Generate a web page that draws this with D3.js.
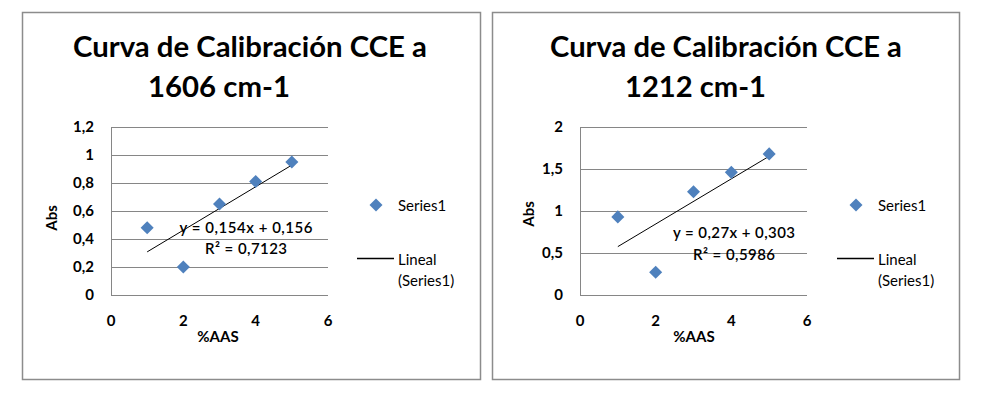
<!DOCTYPE html>
<html>
<head>
<meta charset="utf-8">
<script src="https://cdn.jsdelivr.net/npm/d3@7"></script>
<style>
  html, body { margin: 0; padding: 0; background: #fff; }
  svg { display: block; }
  text { font-family: Lato, "Open Sans", sans-serif; fill: #000; }
</style>
</head>
<body>
<svg id="chart" width="990" height="399"></svg>
<script>
// ---------- data ----------
const xValues = [1, 2, 3, 4, 5];
const absorbance1606 = [0.48, 0.20, 0.65, 0.81, 0.95];
const absorbance1212 = [0.93, 0.27, 1.23, 1.46, 1.68];

const titles1606 = ["Curva de Calibración CCE a", "1606 cm-1"];
const titles1212 = ["Curva de Calibración CCE a", "1212 cm-1"];

const xTicks = [0, 2, 4, 6];
const yTicks1606 = [0, 0.2, 0.4, 0.6, 0.8, 1, 1.2];
const yTicks1212 = [0, 0.5, 1, 1.5, 2];

const equation1606 = ["y = 0,154x + 0,156", "R² = 0,7123"];
const equation1212 = ["y = 0,27x + 0,303", "R² = 0,5986"];

const xAxisTitle = "%AAS";
const yAxisTitle = "Abs";
const legendLabels = ["Series1", "Lineal", "(Series1)"];

// ---------- helpers ----------
const fmt = v => String(v).replace(".", ",");
function linreg(xs, ys) {
  const n = xs.length, mx = d3.mean(xs), my = d3.mean(ys);
  let sxy = 0, sxx = 0;
  for (let i = 0; i < n; i++) { sxy += (xs[i]-mx)*(ys[i]-my); sxx += (xs[i]-mx)**2; }
  const b = sxy / sxx;
  return { slope: b, intercept: my - b*mx };
}

const svg = d3.select("#chart");
const TXT = "#1a1a1a";

function drawChart(cfg) {
  const g = svg.append("g");
  // outer frame
  g.append("rect")
    .attr("x", cfg.box[0] + 0.5).attr("y", cfg.box[1] + 0.5)
    .attr("width", cfg.box[2] - cfg.box[0]).attr("height", cfg.box[3] - cfg.box[1])
    .attr("fill", "#fff").attr("stroke", "#8c8c8c").attr("stroke-width", 1.5);

  // title
  cfg.titles.forEach((t, i) => {
    const el = g.append("text")
      .attr("x", cfg.titleX[i]).attr("y", cfg.titleY[i])
      .attr("text-anchor", "middle")
      .attr("font-weight", "bold")
      .attr("font-size", 28)
      .text(t);
    if (i === 0) {
      const len = el.node().getComputedTextLength();
      cfg._titleSize = 28 * cfg.titleWidth / len;
    }
    el.attr("font-size", cfg._titleSize);
  });

  const x = d3.scaleLinear().domain([0, 6]).range([cfg.plot[0], cfg.plot[1]]);
  const y = d3.scaleLinear().domain([0, d3.max(cfg.yTicks)]).range([cfg.plot[3], cfg.plot[2]]);

  // gridlines
  g.append("g").selectAll("line").data(cfg.yTicks).join("line")
    .attr("x1", x(0)).attr("x2", x(6))
    .attr("y1", d => Math.round(y(d)) + 0.5).attr("y2", d => Math.round(y(d)) + 0.5)
    .attr("stroke", "#868686").attr("stroke-width", 1);
  // y axis line
  g.append("line")
    .attr("x1", Math.round(x(0)) + 0.5).attr("x2", Math.round(x(0)) + 0.5)
    .attr("y1", y(d3.max(cfg.yTicks))).attr("y2", y(0))
    .attr("stroke", "#868686").attr("stroke-width", 1);

  // y tick labels
  g.append("g").selectAll("text").data(cfg.yTicks).join("text")
    .attr("x", x(0) - 17).attr("y", d => y(d) + 5)
    .attr("text-anchor", "end").attr("font-size", 15).attr("font-weight", "bold")
    .attr("fill", TXT)
    .text(d => fmt(d));
  // x tick labels
  g.append("g").selectAll("text").data(xTicks).join("text")
    .attr("x", d => x(d)).attr("y", 326)
    .attr("text-anchor", "middle").attr("font-size", 15).attr("font-weight", "bold")
    .attr("fill", TXT)
    .text(d => d);

  // axis titles
  g.append("text")
    .attr("x", cfg.xTitle[0]).attr("y", cfg.xTitle[1])
    .attr("text-anchor", "middle").attr("font-size", 15).attr("font-weight", "bold")
    .text(xAxisTitle);
  g.append("text")
    .attr("transform", `translate(${cfg.yTitle[0]},${cfg.yTitle[1]}) rotate(-90)`)
    .attr("text-anchor", "middle").attr("dy", "0.35em")
    .attr("font-size", 15).attr("font-weight", "bold")
    .text(yAxisTitle);

  // trend line
  const r = linreg(xValues, cfg.values);
  const x0 = d3.min(xValues), x1 = d3.max(xValues);
  g.append("line")
    .attr("x1", x(x0)).attr("y1", y(r.intercept + r.slope*x0))
    .attr("x2", x(x1)).attr("y2", y(r.intercept + r.slope*x1))
    .attr("stroke", "#000").attr("stroke-width", 1);

  // points (diamonds)
  const diamond = d3.symbol().type(d3.symbolSquare).size(85);
  g.append("g").selectAll("path").data(xValues).join("path")
    .attr("d", diamond)
    .attr("transform", (d, i) => `translate(${x(d)},${y(cfg.values[i])}) rotate(45)`)
    .attr("fill", "#4f81bd");

  // equation label
  cfg.equation.forEach((t, i) => {
    g.append("text").attr("x", cfg.eqX).attr("y", cfg.eqY[i])
      .attr("text-anchor", "middle").attr("font-size", 15).attr("font-weight", 600)
      .attr("fill", TXT)
      .attr("textLength", cfg.eqW[i]).attr("lengthAdjust", "spacing")
      .text(t);
  });

  // legend
  const lx = cfg.legend[0];
  g.append("path").attr("d", diamond)
    .attr("transform", `translate(${lx - 22},205) rotate(45)`)
    .attr("fill", "#4f81bd");
  g.append("text").attr("x", lx).attr("y", 211).attr("font-size", 15)
    .attr("fill", TXT).text(legendLabels[0]);
  g.append("line").attr("x1", lx - 41).attr("x2", lx - 4)
    .attr("y1", 258.5).attr("y2", 258.5).attr("stroke", "#000").attr("stroke-width", 1.3);
  g.append("text").attr("x", lx).attr("y", 265).attr("font-size", 15)
    .attr("fill", TXT).text(legendLabels[1]);
  g.append("text").attr("x", lx).attr("y", 286).attr("font-size", 15)
    .attr("fill", TXT).text(legendLabels[2]);
}

drawChart({
  box: [22, 12, 480, 379],
  plot: [111, 328, 127, 295],
  titles: titles1606, titleX: [250, 219], titleY: [57, 97], titleWidth: 354,
  values: absorbance1606, yTicks: yTicks1606,
  equation: equation1606, eqX: 246, eqY: [233, 254], eqW: [133, 82],
  xTitle: [218, 342], yTitle: [52, 218],
  legend: [398]
});
drawChart({
  box: [492, 12, 959, 379],
  plot: [580, 807, 127, 295],
  titles: titles1212, titleX: [726, 695.5], titleY: [57, 97], titleWidth: 352,
  values: absorbance1212, yTicks: yTicks1212,
  equation: equation1212, eqX: 734, eqY: [238, 260], eqW: [122, 82],
  xTitle: [694, 342], yTitle: [529, 214],
  legend: [878]
});
</script>
</body>
</html>
